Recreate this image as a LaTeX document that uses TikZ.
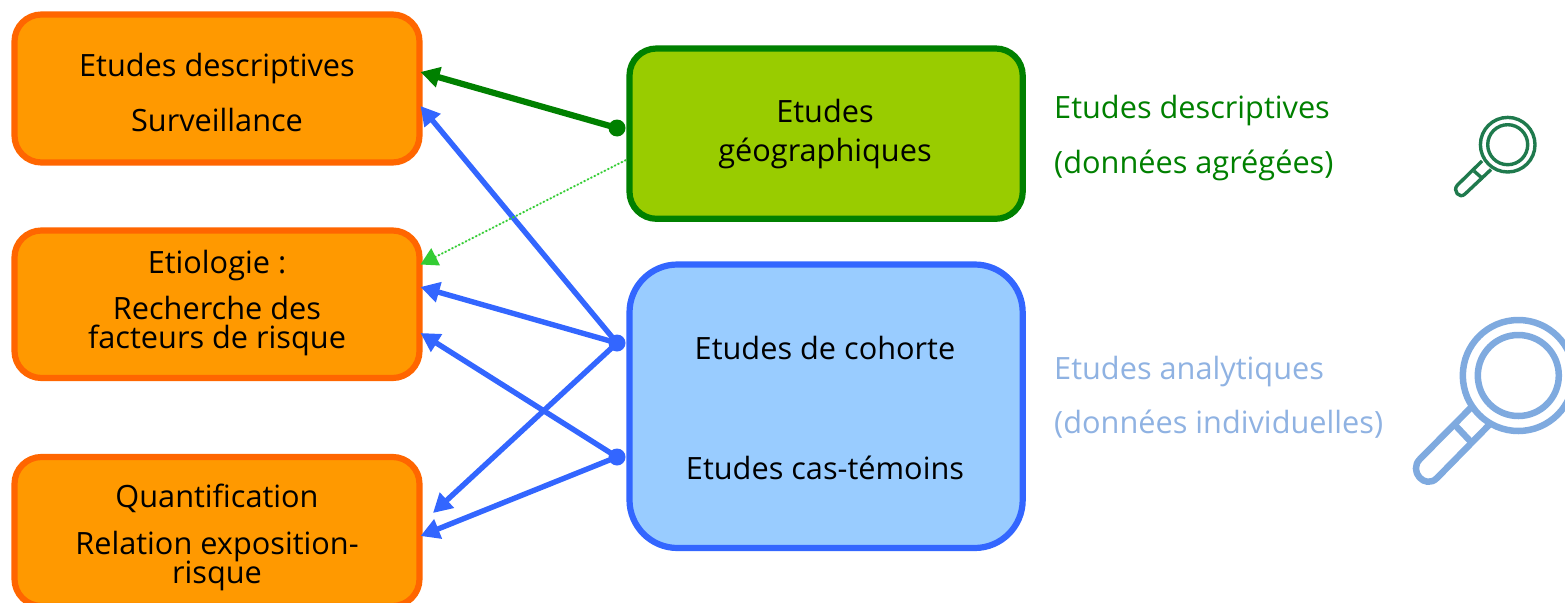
\documentclass[tikz,border=0pt]{standalone}
\usepackage{fontspec}
\setmainfont{Open Sans}
\usetikzlibrary{arrows.meta}
\definecolor{orfill}{HTML}{FF9900}
\definecolor{ordraw}{HTML}{FF6600}
\definecolor{grfill}{HTML}{99CC00}
\definecolor{grdraw}{HTML}{008000}
\definecolor{blfill}{HTML}{99CCFF}
\definecolor{bldraw}{HTML}{3366FF}
\definecolor{lime}{HTML}{33CC33}
\definecolor{lensg}{HTML}{1F7A4D}
\definecolor{lensb}{HTML}{7FAADF}
\definecolor{txtb}{HTML}{8FB2E2}
\tikzset{
  x=1pt,y=-1pt,
  box/.style={rounded corners=27pt,line width=6.2pt},
  lab/.style={anchor=base,inner sep=0pt,font=\fontsize{30.7}{32}\selectfont},
  side/.style={anchor=base west,inner sep=0pt,font=\fontsize{30.7}{32}\selectfont},
  conng/.style={line width=6.2pt,draw=grdraw,fill=grdraw,-{Triangle[length=19pt,width=20pt]}},
  connb/.style={line width=5.4pt,draw=bldraw,fill=bldraw,-{Triangle[length=19pt,width=20pt]}},
  dotg/.style={circle,fill=grdraw,minimum size=17pt,inner sep=0pt},
  dotb/.style={circle,fill=bldraw,minimum size=17pt,inner sep=0pt},
}
\begin{document}
\begin{tikzpicture}
\useasboundingbox (0,0) rectangle (1565,602);
% boxes
\draw[box,draw=ordraw,fill=orfill] (14.5,14.5) rectangle (419.5,162.5);
\draw[box,draw=ordraw,fill=orfill] (14.5,230.5) rectangle (419.5,378);
\draw[box,draw=ordraw,fill=orfill] (14.5,457) rectangle (419.5,606);
\draw[box,draw=grdraw,fill=grfill] (629.5,48.5) rectangle (1022.7,218.8);
\draw[box,rounded corners=48pt,draw=bldraw,fill=blfill] (629.5,264.5) rectangle (1022.7,548);
% labels
\node[lab] (a1) at (217,76) {Etudes descriptives};
\node[lab] (a2) at (217,131) {Surveillance};
\node[lab] (b1) at (217,273) {Etiologie :};
\node[lab] (b2) at (217,319) {Recherche des};
\node[lab] (b3) at (217,348) {facteurs de risque};
\node[lab] (c1) at (217,507) {Quantification};
\node[lab] (c2) at (217,554) {Relation exposition-};
\node[lab] (c3) at (217,583) {risque};
\node[lab] (g1) at (825,122) {Etudes};
\node[lab] (g2) at (825,161) {géographiques};
\node[lab] (h1) at (825,359) {Etudes de cohorte};
\node[lab] (h2) at (825,479) {Etudes cas-témoins};
\node[side,text=grdraw] (s1) at (1054,118) {Etudes descriptives};
\node[side,text=grdraw] (s2) at (1054,173) {(données agrégées)};
\node[side,text=txtb] (s3) at (1054,379) {Etudes analytiques};
\node[side,text=txtb] (s4) at (1054,433) {(données individuelles)};
% connector ends
\node[dotg] (dg) at (617,128) {};
\node[dotb] (db1) at (617,343) {};
\node[dotb] (db2) at (617,457) {};
\coordinate (dl) at (626,160);
\coordinate (t1) at (420.5,72);
\coordinate (t2) at (420.5,106);
\coordinate (t3) at (420.5,264.5);
\coordinate (t4) at (420.5,287);
\coordinate (t5) at (420.5,333);
\coordinate (t6) at (433,513);
\coordinate (t7) at (420.5,536);
\draw[conng] (dg.center) -- (t1);
\draw[connb] (db1.center) -- (t2);
\draw[connb] (db1.center) -- (t4);
\draw[connb] (db1.center) -- (t6);
\draw[connb] (db2.center) -- (t5);
\draw[connb] (db2.center) -- (t7);
\draw[draw=lime,fill=lime,line width=1.8pt,dotted,-{Triangle[length=17pt,width=19pt,fill=lime,sep=0pt]}] (dl) -- (t3);
% lenses
\begin{scope}[draw=lensg,line width=3.4pt,line join=round]
\draw (1507.7,144.7) circle (27.3);
\draw (1507.7,144.7) circle (20);
\draw (1482,161) -- (1457.5,185) to[out=225,in=225,looseness=1.7] (1465,194) -- (1491,169.5);
\draw (1474,171) -- (1483,179);
\end{scope}
\begin{scope}[draw=lensb,line width=6.5pt,line join=round]
\draw (1518.3,375.5) circle (55.5);
\draw (1518.3,375.5) circle (40.5);
\draw (1471.5,407) -- (1420,459) to[out=225,in=225,looseness=1.7] (1437,478) -- (1489,425);
\draw (1455,425) -- (1471,442);
\end{scope}
\end{tikzpicture}
\end{document}
